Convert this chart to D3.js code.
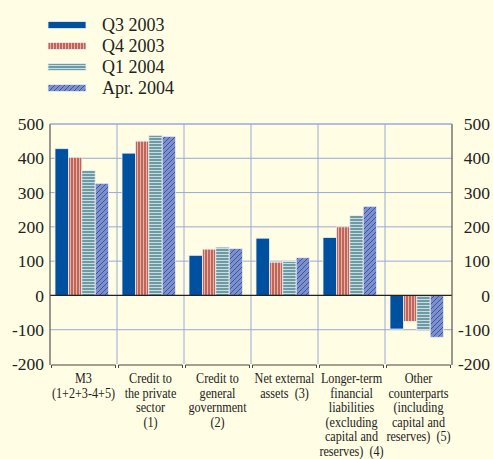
<!DOCTYPE html>
<html>
<head>
<meta charset="utf-8">
<script src="https://cdn.jsdelivr.net/npm/d3@7"></script>
<style>
  body { margin: 0; background: #fffde3; }
  .catlabel { white-space: pre; }
</style>
</head>
<body>
<div id="chart"></div>
<script>
// Chart values
var categories = ['m3', 'priv', 'gov', 'ext', 'ltl', 'oth'];
var categoryLabels = [
  ['M3', '(1+2+3-4+5)'],
  ['Credit to', 'the private', 'sector', '(1)'],
  ['Credit to', 'general', 'government', '(2)'],
  ['Net external', 'assets  (3)'],
  ['Longer-term', 'financial', 'liabilities', '(excluding', 'capital and', 'reserves)  (4)'],
  ['Other', 'counterparts', '(including', 'capital and', 'reserves)  (5)']
];
var seriesNames = ['Q3 2003', 'Q4 2003', 'Q1 2004', 'Apr. 2004'];
var q3_2003 = [428, 415, 117, 167, 169, -98];
var q4_2003 = [403, 450, 135, 97, 200, -76];
var q1_2004 = [364, 467, 141, 99, 233, -103];
var apr_2004 = [327, 464, 137, 110, 260, -122];
var yTicks = [-200, -100, 0, 100, 200, 300, 400, 500];

(function () {
  'use strict';
  var width = 493, height = 459;
  var left = 50, right = 452, top = 124, bottom = 364;
  var seriesData = [q3_2003, q4_2003, q1_2004, apr_2004];
  var serif = "'Liberation Serif', 'Times New Roman', 'DejaVu Serif', serif";

  var svg = d3.select('#chart').append('svg')
    .attr('width', width).attr('height', height)
    .attr('font-family', serif)
    .style('display', 'block');

  svg.append('rect').attr('width', width).attr('height', height).attr('fill', '#fffde3');

  // Fill patterns
  var defs = svg.append('defs');
  var pv = defs.append('pattern').attr('id', 'pQ4').attr('patternUnits', 'userSpaceOnUse')
    .attr('width', 3).attr('height', 3);
  pv.append('rect').attr('width', 3).attr('height', 3).attr('fill', '#e9b3a3');
  pv.append('rect').attr('width', 2).attr('height', 3).attr('fill', '#bf665c');

  var ph = defs.append('pattern').attr('id', 'pQ1').attr('patternUnits', 'userSpaceOnUse')
    .attr('width', 3).attr('height', 3);
  ph.append('rect').attr('width', 3).attr('height', 3).attr('fill', '#c9dddc');
  ph.append('rect').attr('width', 3).attr('height', 2).attr('fill', '#6e9aa6');

  var pd = defs.append('pattern').attr('id', 'pApr').attr('patternUnits', 'userSpaceOnUse')
    .attr('width', 5).attr('height', 5);
  pd.append('rect').attr('width', 5).attr('height', 5).attr('fill', '#7d90cc');
  pd.append('path').attr('d', 'M0,5 L5,0 M-1,1 L1,-1 M4,6 L6,4')
    .attr('stroke', '#27489a').attr('stroke-width', 0.8);

  var fills = ['#0050a0', 'url(#pQ4)', 'url(#pQ1)', 'url(#pApr)'];

  // Scales
  var x = d3.scaleBand().domain(categories).range([left, right]).paddingInner(0).paddingOuter(0);
  var xs = d3.scaleBand().domain(d3.range(4)).range([5, 58.6]);
  var y = d3.scaleLinear().domain([-200, 500]).range([bottom, top]);

  // Grid
  var grid = svg.append('g');
  grid.selectAll('.hgrid').data(yTicks.filter(function (t) { return t !== -200 && t !== 0; }))
    .enter().append('line')
      .attr('x1', left).attr('x2', right)
      .attr('y1', function (d) { return y(d); }).attr('y2', function (d) { return y(d); })
      .attr('stroke', '#9aa9dc').attr('stroke-width', 1);
  grid.selectAll('.vgrid').data(categories.slice(1))
    .enter().append('line')
      .attr('x1', function (d) { return x(d); }).attr('x2', function (d) { return x(d); })
      .attr('y1', top).attr('y2', bottom)
      .attr('stroke', '#9aa9dc').attr('stroke-width', 1);

  // Bars
  var groups = svg.selectAll('.cat').data(categories)
    .enter().append('g')
      .attr('transform', function (d) { return 'translate(' + x(d) + ',0)'; });
  groups.selectAll('rect')
    .data(function (d, i) { return seriesData.map(function (s, j) { return { s: j, v: s[i] }; }); })
    .enter().append('rect')
      .attr('x', function (d) { return xs(d.s); })
      .attr('width', xs.bandwidth())
      .attr('y', function (d) { return y(Math.max(0, d.v)); })
      .attr('height', function (d) { return Math.abs(y(d.v) - y(0)); })
      .attr('fill', function (d) { return fills[d.s]; })
      .attr('stroke', '#eef0f4').attr('stroke-width', 0.8);

  // Zero line
  svg.append('line').attr('x1', left).attr('x2', right)
    .attr('y1', y(0)).attr('y2', y(0))
    .attr('stroke', '#222').attr('stroke-width', 1.2);

  // Frame: left / right axis lines
  [left, right].forEach(function (xx) {
    svg.append('line').attr('x1', xx).attr('x2', xx).attr('y1', top).attr('y2', bottom + 1)
      .attr('stroke', '#555').attr('stroke-width', 1.2);
  });
  svg.append('line').attr('x1', left).attr('x2', right).attr('y1', top).attr('y2', top)
    .attr('stroke', '#9aa9dc').attr('stroke-width', 1);

  // Bottom bracket axis
  var bax = svg.append('g');
  categories.forEach(function (c) {
    var x0 = x(c) + 1.5, x1 = x(c) + x.bandwidth() - 1.5;
    bax.append('path')
      .attr('d', 'M' + x0 + ',' + (bottom + 4) + ' L' + x0 + ',' + (bottom + 1) +
                 ' L' + x1 + ',' + (bottom + 1) + ' L' + x1 + ',' + (bottom + 4))
      .attr('fill', 'none').attr('stroke', '#444').attr('stroke-width', 1);
  });

  // Y tick labels, both sides
  var tl = svg.append('g').attr('font-size', 17.5).attr('fill', '#222');
  tl.selectAll('.ltick').data(yTicks).enter().append('text')
    .attr('x', 44).attr('y', function (d) { return y(d); }).attr('dy', '0.35em')
    .attr('text-anchor', 'end').text(function (d) { return d; });
  tl.selectAll('.rtick').data(yTicks).enter().append('text')
    .attr('x', 490).attr('y', function (d) { return y(d); }).attr('dy', '0.35em')
    .attr('text-anchor', 'end').text(function (d) { return d; });

  // Category labels (condensed, as in the original)
  var cl = svg.append('g').attr('font-size', 14).attr('fill', '#222');
  categories.forEach(function (c, i) {
    var cx = x(c) + x.bandwidth() / 2;
    var t = cl.append('text')
      .attr('class', 'catlabel')
      .attr('transform', 'translate(' + cx + ',383) scale(0.87,1)')
      .attr('text-anchor', 'middle');
    categoryLabels[i].forEach(function (line, k) {
      t.append('tspan').attr('x', 0)
        .attr('dy', k === 0 ? 0 : 14.6).text(line);
    });
  });

  // Legend
  var lg = svg.append('g');
  seriesNames.forEach(function (name, i) {
    var yy = 25 + i * 21;
    lg.append('rect').attr('x', 48).attr('y', yy - 3.5).attr('width', 38).attr('height', 7)
      .attr('fill', fills[i]).attr('stroke', '#eef0f4').attr('stroke-width', 0.8);
    lg.append('text').attr('x', 102).attr('y', yy).attr('dy', '0.35em')
      .attr('font-size', 18).attr('fill', '#222').text(name);
  });
}());
</script>
</body>
</html>
